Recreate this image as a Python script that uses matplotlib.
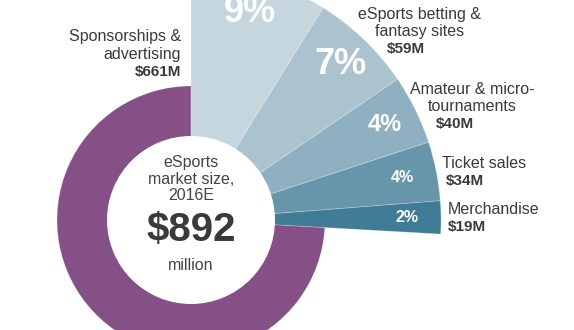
import numpy as np
import matplotlib.pyplot as plt
from matplotlib.patches import Wedge, Circle

# market segments, counter-clockwise from 12 o'clock
segments = ['Sponsorships & advertising', 'Merchandise', 'Ticket sales',
            'Amateur & micro-tournaments', 'eSports betting & fantasy sites',
            'Media rights']
revenue = [661, 19, 34, 40, 59, 79]   # $M, 2016E
pct_labels = ['74%', '2%', '4%', '4%', '7%', '9%']
colors = ['#845086', '#417c97', '#6796ab', '#8eb0c0', '#aac3cf', '#c5d6df']

W, H = 574, 330
cx, cy = 191, H - 220
r_hole, r_main, r_out = 84, 134, 250

bold = ['Liberation Sans', 'DejaVu Sans']
light = ['Liberation Sans', 'DejaVu Sans']
dark = '#3a3a3a'

fig = plt.figure(figsize=(W / 100, H / 100), dpi=100)
ax = fig.add_axes([0, 0, 1, 1])
ax.set_xlim(0, W)
ax.set_ylim(0, H)
ax.axis('off')

total = sum(revenue)
angles = np.cumsum([0] + [v / total * 360 for v in revenue]) + 90

for i, v in enumerate(revenue):
    a0, a1 = angles[i], angles[i + 1]
    r = r_main if i == 0 else r_out
    ax.add_patch(Wedge((cx, cy), r, a0, a1, facecolor=colors[i],
                       edgecolor=(1, 1, 1, 0.25), linewidth=0.6))

# percentage labels inside exploded wedges
pct_sizes = [0, 11.5, 11.5, 17, 26, 26]
for i in range(1, len(revenue)):
    mid = np.deg2rad((angles[i] + angles[i + 1]) / 2)
    ax.text(cx + 216 * np.cos(mid), cy + 216 * np.sin(mid), pct_labels[i],
            ha='center', va='center', color='white', fontweight='bold',
            fontsize=pct_sizes[i], family=bold)

ax.add_patch(Circle((cx, cy), r_hole, facecolor='white', edgecolor='none'))

# centre text
for txt, y in [('eSports', 163), ('market size,', 179), ('2016E', 196),
               ('million', 266)]:
    ax.text(cx, H - y, txt, ha='center', va='center', fontsize=11.5,
            color='#444444', family=light)
ax.text(cx, H - 230, '$%d' % total, ha='center', va='center', fontsize=29,
        fontweight='bold', color=dark, family=bold)

# segment labels
def label(x, y, lines, value, ha='left', vx=None):
    for k, ln in enumerate(lines):
        ax.text(x, H - (y + 17.5 * k), ln, ha=ha, va='center', fontsize=11.5,
                color=dark, family=light)
    ax.text(vx if vx is not None else x, H - (y + 17.5 * len(lines)),
            '$%dM' % value, ha=ha if vx is None else 'left', va='center',
            fontsize=11, fontweight='bold', color=dark, family=bold)

label(181, 37, ['Sponsorships &', 'advertising'], revenue[0], ha='right')
label(420, 14, ['eSports betting &', 'fantasy sites'], revenue[4],
      ha='center', vx=387)
label(472, 89, ['Amateur & micro-', 'tournaments'], revenue[3],
      ha='center', vx=436)
label(442, 163, ['Ticket sales'], revenue[2], vx=446)
label(448, 209, ['Merchandise'], revenue[1])

fig.savefig('out.png', dpi=100)
